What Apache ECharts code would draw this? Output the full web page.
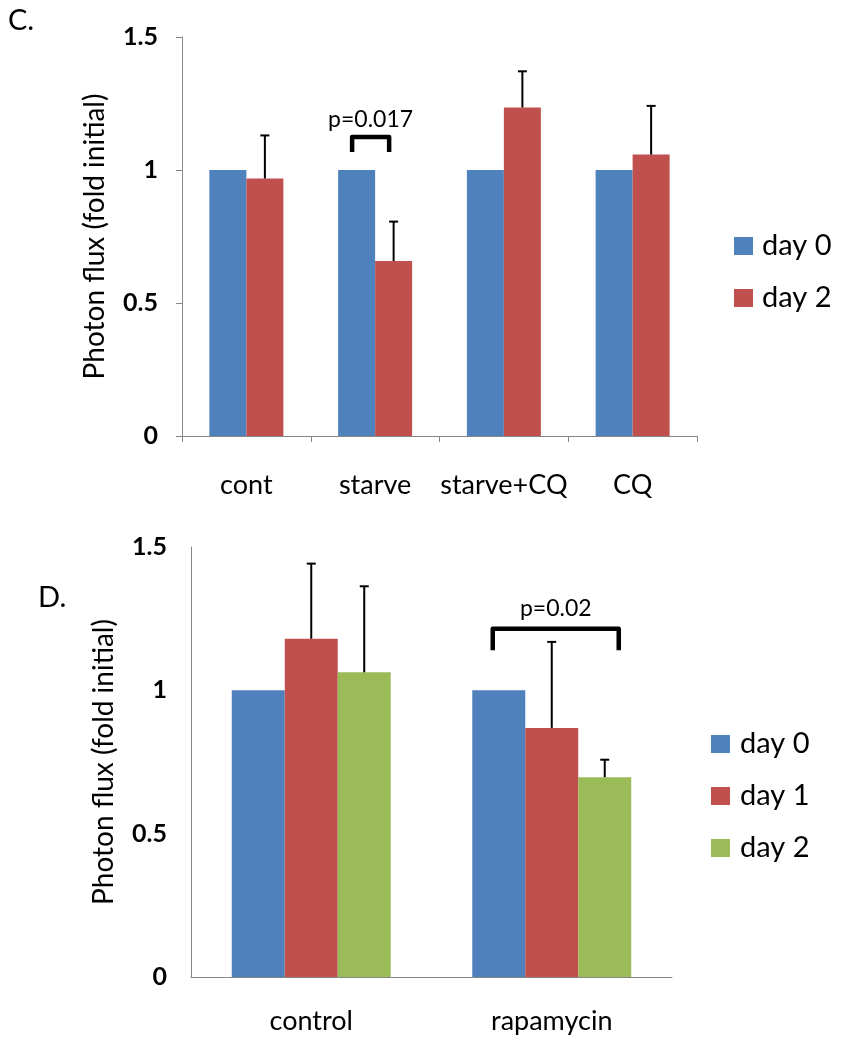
<!DOCTYPE html>
<html>
<head>
<meta charset="utf-8">
<script src="https://cdn.jsdelivr.net/npm/echarts@6/dist/echarts.min.js"></script>
<style>
html,body{margin:0;padding:0;background:#fff;}
#c1{position:absolute;left:0;top:0;width:848px;height:525px;}
#c2{position:absolute;left:0;top:525px;width:848px;height:525px;}
</style>
</head>
<body>
<div id="c1"></div>
<div id="c2"></div>
<script>
// ---- Panel C data ----
const catsC = ['cont', 'starve', 'starve+CQ', 'CQ'];
const day0C = [1, 1, 1, 1];
const day2C = [0.968, 0.658, 1.235, 1.058];
const day2ErrC = [0.162, 0.148, 0.136, 0.183];
const seriesNamesC = ['day 0', 'day 2'];
const bracketC = { label: 'p=0.017', cat: 1, fromBar: 0, toBar: 1, top: 1.124, legEnd: 1.068 };

// ---- Panel D data ----
const catsD = ['control', 'rapamycin'];
const day0D = [1, 1];
const day1D = [1.18, 0.869];
const day1ErrD = [0.262, 0.30];
const day2D = [1.063, 0.697];
const day2ErrD = [0.30, 0.061];
const seriesNamesD = ['day 0', 'day 1', 'day 2'];
const bracketD = { label: 'p=0.02', cat: 1, fromBar: 0, toBar: 2, top: 1.215, legEnd: 1.140 };

const yTicks = [0, 0.5, 1, 1.5];

const BLUE = '#4F81BD', RED = '#C0504D', GREEN = '#9BBB59';
const FONT = 'Lato';

function errSeries(vals, errs, barIdx, nBars, gap) {
  return {
    type: 'custom', silent: true, z: 5,
    data: vals.map((v, i) => [i, v, errs[i]]),
    encode: { x: 0, y: 1 },
    renderItem(params, api) {
      const i = api.value(0), v = api.value(1), e = api.value(2);
      const band = api.size([1, 0])[0];
      const bw = band * (1 - gap) / nBars;
      const c = api.coord([i, v]);
      const x = c[0] + (barIdx - (nBars - 1) / 2) * bw;
      const yTop = api.coord([i, v + e])[1];
      return {
        type: 'group', children: [
          { type: 'line', shape: { x1: x, y1: c[1], x2: x, y2: yTop }, style: { stroke: '#000', lineWidth: 2 } },
          { type: 'line', shape: { x1: x - 4.5, y1: yTop, x2: x + 4.5, y2: yTop }, style: { stroke: '#000', lineWidth: 2 } }
        ]
      };
    }
  };
}

function bracketSeries(b, nBars, gap, offL, offR, textGap) {
  return {
    type: 'custom', silent: true, z: 6,
    data: [[b.cat, b.top, b.legEnd]],
    encode: { x: 0, y: 1 },
    renderItem(params, api) {
      const i = api.value(0);
      const band = api.size([1, 0])[0];
      const bw = band * (1 - gap) / nBars;
      const c = api.coord([i, b.top]);
      const x1 = c[0] + (b.fromBar - (nBars - 1) / 2) * bw + offL;
      const x2 = c[0] + (b.toBar - (nBars - 1) / 2) * bw + offR;
      const yT = c[1];
      const yL = api.coord([i, b.legEnd])[1];
      return {
        type: 'group', children: [
          { type: 'polyline', shape: { points: [[x1, yL], [x1, yT], [x2, yT], [x2, yL]] },
            style: { stroke: '#000', lineWidth: 4.5, fill: null, lineJoin: 'round', lineCap: 'butt' } },
          { type: 'text', style: { text: b.label, x: (x1 + x2) / 2, y: yT - textGap, align: 'center', verticalAlign: 'middle',
            fontSize: 23, fontFamily: FONT, fill: '#000' } }
        ]
      };
    }
  };
}

function yAxisCfg(ticks, nameGap, showTick) {
  return {
    type: 'value', min: ticks[0], max: ticks[ticks.length - 1], interval: ticks[1] - ticks[0],
    name: 'Photon flux (fold initial)', nameLocation: 'middle', nameGap: nameGap,
    nameTextStyle: { fontSize: 28, fontFamily: FONT, color: '#000' },
    axisLine: { show: true, lineStyle: { color: '#868686', width: 1 } },
    axisTick: { show: showTick, length: 6, lineStyle: { color: '#868686' } },
    splitLine: { show: false },
    axisLabel: { fontSize: 25, fontWeight: 'bold', fontFamily: FONT, color: '#000', margin: 24 }
  };
}

// ---- Chart C ----
const gapC = 0.4252;
const chartC = echarts.init(document.getElementById('c1'));
chartC.setOption({
  animation: false,
  textStyle: { fontFamily: FONT },
  grid: { left: 182, top: 37, width: 515, height: 399 },
  graphic: [{ type: 'text', left: 8, top: 6, style: { text: 'C.', fontSize: 29, fontFamily: FONT, fill: '#000' } }],
  legend: {
    orient: 'vertical', left: 729, top: 226, itemWidth: 19, itemHeight: 18, itemGap: 22, icon: 'rect',
    data: seriesNamesC,
    textStyle: { fontSize: 29, fontFamily: FONT, color: '#000', lineHeight: 30, padding: [0, 0, 0, 4] }
  },
  xAxis: {
    type: 'category', data: catsC,
    axisLine: { lineStyle: { color: '#868686', width: 1 } },
    axisTick: { show: true, length: 6, alignWithLabel: false, lineStyle: { color: '#868686' } },
    axisLabel: { fontSize: 27, fontFamily: FONT, color: '#000', margin: 36, interval: 0 }
  },
  yAxis: yAxisCfg(yTicks, 73, true),
  series: [
    { name: seriesNamesC[0], type: 'bar', data: day0C, barGap: '0%', barCategoryGap: (gapC * 100) + '%', itemStyle: { color: BLUE } },
    { name: seriesNamesC[1], type: 'bar', data: day2C, barGap: '0%', barCategoryGap: (gapC * 100) + '%', itemStyle: { color: RED } },
    errSeries(day2C, day2ErrC, 1, 2, gapC),
    bracketSeries(bracketC, 2, gapC, -4.5, -4.5, 17)
  ]
});

// ---- Chart D ----
const gapD = 0.339;
const chartD = echarts.init(document.getElementById('c2'));
chartD.setOption({
  animation: false,
  textStyle: { fontFamily: FONT },
  grid: { left: 191, top: 22, width: 481, height: 430 },
  graphic: [{ type: 'text', left: 38, top: 58, style: { text: 'D.', fontSize: 29, fontFamily: FONT, fill: '#000' } }],
  legend: {
    orient: 'vertical', left: 706, top: 199, itemWidth: 19, itemHeight: 18, itemGap: 22, icon: 'rect',
    data: seriesNamesD,
    textStyle: { fontSize: 29, fontFamily: FONT, color: '#000', lineHeight: 30, padding: [0, 0, 0, 5] }
  },
  xAxis: {
    type: 'category', data: catsD,
    axisLine: { lineStyle: { color: '#868686', width: 1 } },
    axisTick: { show: false },
    axisLabel: { fontSize: 27, fontFamily: FONT, color: '#000', margin: 31, interval: 0 }
  },
  yAxis: yAxisCfg(yTicks, 73, false),
  series: [
    { name: seriesNamesD[0], type: 'bar', data: day0D, barGap: '0%', barCategoryGap: (gapD * 100) + '%', itemStyle: { color: BLUE } },
    { name: seriesNamesD[1], type: 'bar', data: day1D, barGap: '0%', barCategoryGap: (gapD * 100) + '%', itemStyle: { color: RED } },
    { name: seriesNamesD[2], type: 'bar', data: day2D, barGap: '0%', barCategoryGap: (gapD * 100) + '%', itemStyle: { color: GREEN } },
    errSeries(day1D, day1ErrD, 1, 3, gapD),
    errSeries(day2D, day2ErrD, 2, 3, gapD),
    bracketSeries(bracketD, 3, gapD, -6, 14, 20)
  ]
});
</script>
</body>
</html>
